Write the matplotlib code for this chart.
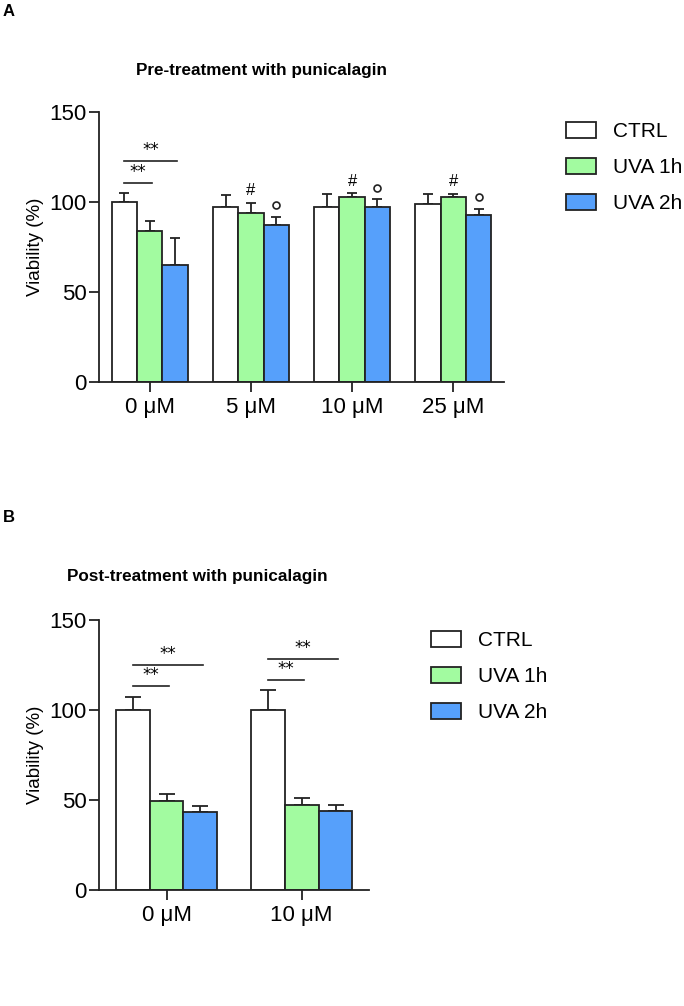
import numpy as np
import matplotlib
matplotlib.use('Agg')
import matplotlib.pyplot as plt

plt.rcParams['font.family'] = ['Liberation Sans', 'DejaVu Sans']

# ---- data ----
groups_a = ['0 μM', '5 μM', '10 μM', '25 μM']
ctrl_a = [100.0, 97.2, 97.2, 98.7]
ctrl_a_sd = [4.7, 6.5, 7.2, 5.4]
uva1_a = [83.7, 93.9, 102.4, 102.4]
uva1_a_sd = [5.6, 5.4, 2.3, 1.9]
uva2_a = [65.0, 87.0, 97.2, 92.8]
uva2_a_sd = [14.7, 4.5, 4.1, 3.1]

groups_b = ['0 μM', '10 μM']
ctrl_b = [100.0, 100.0]
ctrl_b_sd = [7.0, 11.1]
uva1_b = [49.4, 47.2]
uva1_b_sd = [3.8, 3.8]
uva2_b = [43.3, 44.1]
uva2_b_sd = [3.5, 2.9]

series_names = ['CTRL', 'UVA 1h', 'UVA 2h']
series_colors = ['white', '#a2fba0', '#56a0fb']

# markers above bars in A: (group, series, symbol)
marks_a = [(1, 1, '#'), (1, 2, 'o'), (2, 1, '#'), (2, 2, 'o'), (3, 1, '#'), (3, 2, 'o')]
# significance brackets: (group, from series, to series, height)
sig_a = [(0, 0, 1, 110.4), (0, 0, 2, 122.6)]
sig_b = [(0, 0, 1, 113.2), (0, 0, 2, 125.2), (1, 0, 1, 116.7), (1, 0, 2, 128.3)]

W = 0.25


def bar_panel(ax, groups, means, sds, capsize):
    x = np.arange(len(groups))
    handles = []
    for i, (m, s) in enumerate(zip(means, sds)):
        pos = x + (i - 1) * W
        ax.errorbar(pos, m, yerr=[np.zeros(len(m)), s], fmt='none', ecolor='#222222',
                    elinewidth=1.3, capsize=capsize, capthick=1.3, zorder=1)
        b = ax.bar(pos, m, W, color=series_colors[i], edgecolor='#222222',
                   linewidth=1.3, label=series_names[i], zorder=2)
        handles.append(b)
    ax.set_xlim(-0.5, len(groups) - 0.5)
    ax.set_ylim(0, 150)
    ax.set_yticks([0, 50, 100, 150])
    ax.set_xticks(x)
    ax.set_xticklabels(groups)
    ax.tick_params(axis='both', labelsize=16, width=1.3, length=7, color='#222222')
    ax.tick_params(axis='y', pad=2)
    ax.tick_params(axis='x', pad=4)
    for sp in ['top', 'right']:
        ax.spines[sp].set_visible(False)
    for sp in ['left', 'bottom']:
        ax.spines[sp].set_linewidth(1.3)
        ax.spines[sp].set_color('#222222')
    ax.set_ylabel('Viability (%)', fontsize=13.5, labelpad=4)
    return handles


def add_sig(ax, sig):
    for g, a, b, h in sig:
        x0 = g + (a - 1) * W
        x1 = g + (b - 1) * W + 0.02
        ax.plot([x0, x1], [h, h], color='#222222', lw=1.2, clip_on=False)
        ax.text((x0 + x1) / 2, h + 1.0, '**', ha='center', va='bottom', fontsize=12,
                family='DejaVu Sans')


def add_legend(fig, handles, x_px, y_px):
    fig.legend(handles=handles, loc='upper left', bbox_to_anchor=(x_px / 684, 1 - y_px / 1006),
               bbox_transform=fig.transFigure, frameon=False, borderpad=0, borderaxespad=0,
               fontsize=15, handlelength=1.45, handleheight=0.8, labelspacing=0.8,
               handletextpad=0.8)


fig = plt.figure(figsize=(6.84, 10.06), dpi=100)

# ---- panel A ----
ax1 = fig.add_axes([99 / 684, 0.6206, 405 / 684, 0.2684])
h1 = bar_panel(ax1, groups_a, [ctrl_a, uva1_a, uva2_a], [ctrl_a_sd, uva1_a_sd, uva2_a_sd], 3.8)
add_sig(ax1, sig_a)
all_a = [ctrl_a, uva1_a, uva2_a]
all_a_sd = [ctrl_a_sd, uva1_a_sd, uva2_a_sd]
for g, s, sym in marks_a:
    top = all_a[s][g] + all_a_sd[s][g]
    xp = g + (s - 1) * W
    if sym == '#':
        ax1.text(xp, top + 2.5, sym, ha='center', va='bottom', fontsize=12)
    else:
        ax1.plot(xp, top + 6.5, marker='o', ms=5, mfc='white', mec='#222222', mew=1.2)
add_legend(fig, h1, 566, 122)
fig.text(262 / 684, 1 - 70 / 1006, 'Pre-treatment with punicalagin', ha='center',
         va='center', fontsize=12.3, fontweight='bold')
fig.text(3 / 684, 1 - 12 / 1006, 'A', ha='left', va='center', fontsize=12, fontweight='bold')

# ---- panel B ----
ax2 = fig.add_axes([99 / 684, 0.1153, 270.3 / 684, 0.2684])
h2 = bar_panel(ax2, groups_b, [ctrl_b, uva1_b, uva2_b], [ctrl_b_sd, uva1_b_sd, uva2_b_sd], 5.5)
add_sig(ax2, sig_b)
add_legend(fig, h2, 431, 631)
fig.text(197 / 684, 1 - 577 / 1006, 'Post-treatment with punicalagin', ha='center',
         va='center', fontsize=12.3, fontweight='bold')
fig.text(3 / 684, 1 - 517 / 1006, 'B', ha='left', va='center', fontsize=12, fontweight='bold')

fig.savefig('out.png', dpi=100)
